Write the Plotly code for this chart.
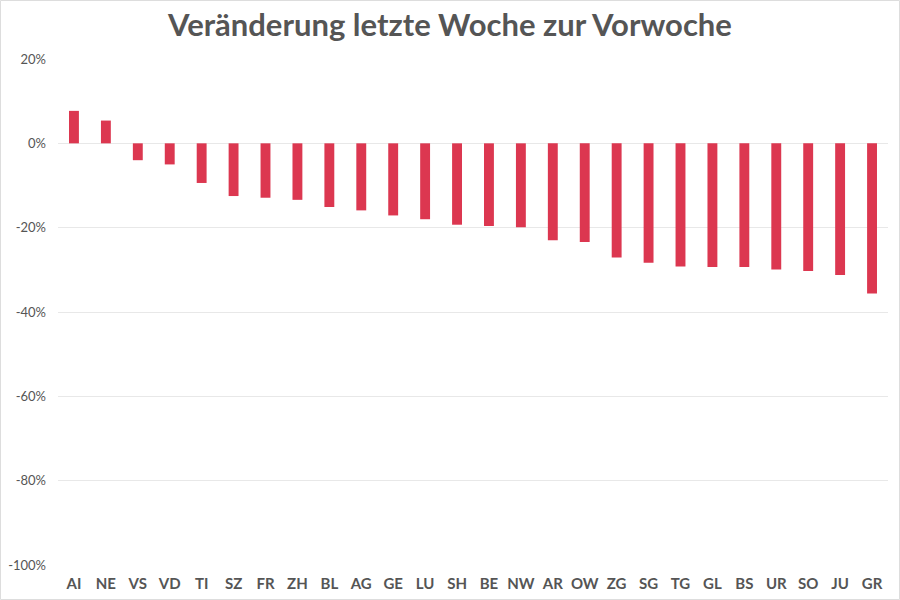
import plotly.graph_objects as go

cantons = ["AI", "NE", "VS", "VD", "TI", "SZ", "FR", "ZH", "BL", "AG", "GE", "LU", "SH",
           "BE", "NW", "AR", "OW", "ZG", "SG", "TG", "GL", "BS", "UR", "SO", "JU", "GR"]
change = [0.077, 0.054, -0.040, -0.050, -0.094, -0.125, -0.129, -0.134, -0.151, -0.159,
          -0.171, -0.180, -0.193, -0.196, -0.199, -0.230, -0.234, -0.271, -0.283, -0.292,
          -0.293, -0.293, -0.299, -0.303, -0.312, -0.356]
y_ticks = [0.2, 0, -0.2, -0.4, -0.6, -0.8, -1.0]
y_tick_labels = ["20%", "0%", "-20%", "-40%", "-60%", "-80%", "-100%"]

fig = go.Figure(go.Bar(
    x=cantons, y=change,
    marker=dict(color="#dc3750", line=dict(width=0)),
    width=0.31,
))

fig.update_layout(
    width=900, height=600,
    paper_bgcolor="white", plot_bgcolor="white",
    margin=dict(l=58, r=12, t=59, b=35),
    title=dict(text="<b>Veränderung letzte Woche zur Vorwoche</b>",
               x=0.5, xanchor="center", y=0.958, yanchor="middle",
               font=dict(family="Lato", size=31, color="#555555")),
    showlegend=False,
)
fig.update_yaxes(
    range=[-1.0, 0.2], tickvals=y_ticks, ticktext=y_tick_labels,
    showgrid=True, gridcolor="#e8e8e8", gridwidth=1,
    zeroline=False, showline=False, automargin=False,
    tickfont=dict(family="Lato", size=13, color="#555555"),
    ticks="", ticklen=0, ticklabelstandoff=11,
)
fig.update_xaxes(
    showgrid=False, showline=False, zeroline=False, automargin=False,
    tickfont=dict(family="Lato", size=15, color="#555555", weight="bold"),
    ticks="outside", ticklen=5, tickcolor="rgba(0,0,0,0)",
)
fig.add_shape(type="rect", xref="paper", yref="paper",
              x0=-57.5/830, x1=1 + 11.5/830, y0=-34.5/506, y1=1 + 58.5/506,
              line=dict(color="#dddddd", width=1), fillcolor="rgba(0,0,0,0)")

fig.write_html("out.html", config={"displayModeBar": False},
               post_script="document.body.style.margin='0';document.body.style.overflow='hidden';")
